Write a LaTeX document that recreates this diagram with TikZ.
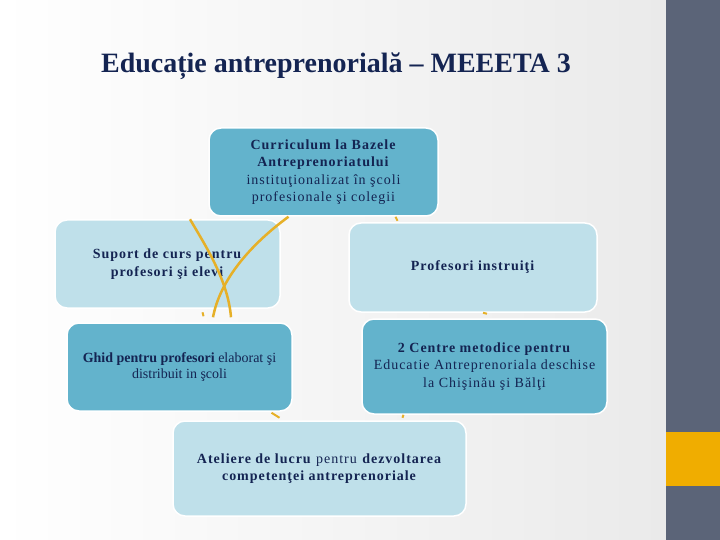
\documentclass[tikz,border=0pt]{standalone}
\usepackage{fontspec}
\setmainfont{Liberation Serif}
\newfontfamily\spacedfont[LetterSpace=7]{Liberation Serif}
\definecolor{navy}{RGB}{20,36,82}
\definecolor{deepblue}{RGB}{99,179,204}
\definecolor{paleblue}{RGB}{191,224,234}
\definecolor{slate}{RGB}{91,100,120}
\definecolor{amber}{RGB}{240,173,0}
\definecolor{gold}{RGB}{230,176,40}
\definecolor{bggray}{RGB}{234,234,234}

\begin{document}
\begin{tikzpicture}[x=1pt,y=-1pt,
  box/.style={rounded corners=12pt,draw=white,line width=1.5pt,align=center,
    text=navy,inner sep=0pt,font=\spacedfont\fontsize{14}{17.5}\selectfont},
  deep/.style={box,fill=deepblue},
  pale/.style={box,fill=paleblue},
  arc/.style={draw=gold,line width=2.5pt},
  stub/.style={draw=gold,line width=2pt}]
\useasboundingbox (0,0) rectangle (720,540);
\shade[left color=white,right color=bggray] (0,0) rectangle (666,540);
\fill[slate] (666,0) rectangle (720,540);
\fill[amber] (666,432) rectangle (720,486);

\node[text=navy,font=\fontsize{28}{32}\selectfont\bfseries] (title) at (336,66) {Educație antreprenorială – MEEETA 3};

\node[deep,minimum width=229pt,minimum height=88pt] (curr) at (323.5,172) {\textbf{Curriculum la Bazele}\\\textbf{Antreprenoriatului}\\instituţionalizat în şcoli\\profesionale şi colegii};
\node[pale,minimum width=225pt,minimum height=88pt] (supp) at (167.5,264) {\textbf{Suport de curs pentru}\\\textbf{profesori şi elevi}};
\node[pale,minimum width=248pt,minimum height=89pt] (prof) at (473,267.5) {\textbf{Profesori instruiţi}};
\node[deep,minimum width=225pt,minimum height=88pt,font=\rmfamily\fontsize{14}{16.5}\selectfont] (ghid) at (179.5,367) {\textbf{Ghid pentru profesori} elaborat şi\\distribuit in şcoli};
\node[deep,minimum width=245pt,minimum height=95pt] (cent) at (484.5,366.5) {\textbf{2 Centre metodice pentru}\\Educatie Antreprenoriala deschise\\la Chişinău şi Bălţi};
\node[pale,minimum width=293pt,minimum height=95pt] (atel) at (319.5,468.5) {\textbf{Ateliere de lucru} pentru \textbf{dezvoltarea}\\\textbf{competenţei antreprenoriale}};

% crossing arcs
\path[arc] ([xshift=-35pt]curr.south) .. controls (250,245) and (220,280) .. ([xshift=33.5pt,yshift=5pt]ghid.north);
\path[arc] ([xshift=22.5pt]supp.north) .. controls (205,245) and (228,280) .. ([xshift=51.5pt,yshift=5pt]ghid.north);

% small tips
\path[stub] ([xshift=72pt]curr.south) -- ++(2,4);
\path[stub] ([xshift=10pt]prof.south) -- ++(4,1);
\path[stub] ([xshift=-81pt]cent.south) -- ++(-1,3);
\path[stub] ([xshift=92pt,yshift=-1pt]ghid.south) -- ++(8,5);
\path[stub] ([xshift=23pt,yshift=10pt]ghid.north) -- ++(1,4);
\end{tikzpicture}
\end{document}
